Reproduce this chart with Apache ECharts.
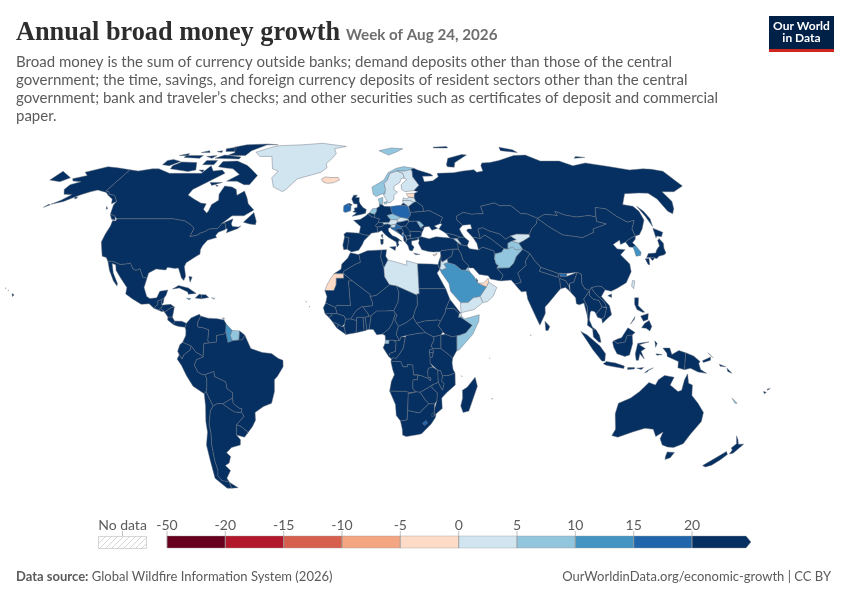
<!DOCTYPE html>
<html><head><meta charset="utf-8">
<script src="https://cdn.jsdelivr.net/npm/echarts@6/dist/echarts.min.js"></script>
<style>html,body{margin:0;padding:0;background:#fff}#c{width:850px;height:600px}</style>
</head><body><div id="c"></div>
<script>
// ---- Legend bins ----
const binEdges = ["-50","-20","-15","-10","-5","0","5","10","15","20"];
const binColors = ["#67001f","#b2182b","#d6604d","#f4a582","#fddbc7","#d1e5f0","#92c5de","#4393c3","#2166ac","#053061"];
const binLows = [-50,-20,-15,-10,-5,0,5,10,15,20];

// ---- Estimated growth per country (read from the map colours) ----
const minus5to0 = ["Iceland","Western Sahara","Estonia","Cyprus","United Arab Emirates"];
const zeroTo5 = ["Greenland","Sweden","Finland","Latvia","Lithuania","Slovakia","Austria","Libya","Jordan","Armenia","Oman","Yemen","Djibouti","Kyrgyzstan","Taiwan","Puerto Rico","Slovenia","Cape Verde","Mauritius","Comoros","Seychelles","Maldives"];
const fiveTo10 = ["Norway","Denmark","Netherlands","Czechia","Moldova","Somalia","Afghanistan","Tajikistan","Suriname","Equatorial Guinea","New Caledonia","Kuwait","Trinidad and Tobago"];
const tenTo15 = ["Saudi Arabia","South Korea","Guyana","Jamaica","East Timor"];
const fifteenTo20 = ["Poland","Ireland","Croatia","Montenegro","Bhutan","Lesotho"];
const over20 = ["Canada","United States","Mexico","Guatemala","Belize","Honduras","El Salvador","Nicaragua","Costa Rica","Panama","Cuba","Haiti","Dominican Republic","Bahamas","Colombia","Venezuela","French Guiana","Brazil","Ecuador","Peru","Bolivia","Chile","Argentina","Paraguay","Uruguay","Morocco","Algeria","Tunisia","Egypt","Sudan","Mauritania","Mali","Senegal","Guinea-Bissau","Guinea","Sierra Leone","Liberia","Ivory Coast","Burkina Faso","Ghana","Togo","Benin","Niger","Nigeria","Chad","Cameroon","Central African Republic","South Sudan","Ethiopia","Eritrea","Kenya","Uganda","Rwanda","Burundi","Tanzania","DR Congo","Congo","Gabon","Angola","Zambia","Malawi","Mozambique","Zimbabwe","Botswana","Namibia","South Africa","Eswatini","Madagascar","United Kingdom","France","Spain","Portugal","Belgium","Germany","Switzerland","Italy","Hungary","Bosnia","Serbia","Albania","North Macedonia","Greece","Bulgaria","Romania","Ukraine","Belarus","Russia","Georgia","Azerbaijan","Turkey","Syria","Lebanon","Israel","Iraq","Iran","Qatar","Kazakhstan","Turkmenistan","Uzbekistan","Pakistan","India","Nepal","Bangladesh","Sri Lanka","China","Mongolia","North Korea","Japan","Myanmar","Thailand","Laos","Cambodia","Vietnam","Malaysia","Indonesia","Papua New Guinea","Solomon Islands","Philippines","Australia","New Zealand","Fiji"];
const minus5to0Value = -2.5, zeroTo5Value = 2.5, fiveTo10Value = 7.5, tenTo15Value = 12.5, fifteenTo20Value = 17.5, over20Value = 25;

// ---- Country outlines, lon lat pairs; rings separated by ";" ----
const outlines = {
"Canada":"-141 69.6,-135 69,-128 70,-124 70,-115 68,-108 68,-102 68,-96 68,-94 71.5,-90 69,-85 69.5,-82 68,-87 65,-94 61,-94.5 58.7,-90 57,-85 55.3,-82 55,-82 52.8,-79.5 51.3,-79 52,-79 54.7,-76.5 56.5,-78 59,-77.5 62.5,-73 62,-70 61,-68 58.5,-65 60.3,-62 57.5,-60 55,-56 52.5,-60 50.2,-66 50.2,-70 47,-65 49,-65 47,-64 46,-61 45.8,-60 46.2,-61 45.2,-66 43.5,-66 45,-67 45.2,-67.8 47,-69.5 47.3,-71 45.2,-75 45,-76.5 44,-79 43.3,-79 42.8,-83 42,-82.5 45.3,-84.5 46.5,-88.5 48.2,-95 49,-123 49,-125 50,-128 51,-130 54.5,-130 56,-134 58.5,-137.5 59,-139 60,-141 60.3;-80 73.7,-72 71.7,-68 70,-62 67,-64 63,-67 63,-72 64.5,-78 64.5,-73 67.5,-79 70,-85 70.5,-89 71,-89 73.5;-117 70,-105 68.8,-101 69.5,-105 73,-115 73.3,-118 71.5;-125 72,-120 71.5,-116 73.5,-122 74.5,-125 74;-90 76.5,-78 76.5,-77 79,-70 82.5,-62 82.5,-70 83.1,-85 82.5,-92 81,-87 78;-96 75,-80 74.7,-80 75.7,-92 76.7;-87 64,-80 64,-85 62.7;-59.3 47.7,-55.5 51.5,-53 48,-53 46.7,-56 47;-117 75.5,-106 75,-106 76.5,-117 76.5;-94 78.5,-88 78.5,-90 81,-96 80;-100 72,-93 72,-93 74,-100 74;-128 50.8,-125 50.3,-123.5 48.5,-125.5 48.8;-133 54,-131.5 53,-132 52.8;-122 76.5,-116 76.4,-117 77.5;-103 76,-98 75,-97 76.5;-99 69.5,-96 68.5,-96 69.5;-83 63,-81 62.5,-82 62.3;-100 78.5,-96 78,-97 79;-110 78,-104 78,-106 79",
"United States":"-123 49,-95 49,-88.5 48.2,-84.5 46.5,-82.5 45.3,-83 42,-79 42.8,-79 43.3,-76.5 44,-75 45,-71 45.2,-69.5 47.3,-67.8 47,-67 45.2,-67 44.8,-70 43.7,-70.8 42.5,-70 41.7,-74 40.6,-75.5 38.5,-76 37,-75.6 35.3,-78 33.9,-81 32,-81.4 30.5,-80 26.8,-80.5 25.2,-81.8 26.2,-82.8 28,-84 30,-85.5 29.8,-89 30.2,-89.5 29.2,-91 29.3,-94 29.6,-97 28,-97.2 26,-99.2 26.4,-101.4 29.7,-103 29,-104.5 29.6,-106.5 31.8,-108.2 31.5,-111 31.3,-114.8 32.5,-117.1 32.5,-118.5 34,-120.6 34.5,-122 36.8,-124 40,-124.2 43,-124 46.2,-124.6 48.3,-123 48.2;-141 69.6,-141 60.3,-139 60,-137.5 59,-134 58.5,-130 56,-131.5 55,-133.5 57,-137 58.3,-140 59.7,-146 60.7,-149 60,-152 59,-153 58.5,-158 56,-163 54.8,-160 56.5,-157.5 58.8,-162 59,-165 61,-165 63,-161 64.3,-166 64.6,-168 65.6,-162 67,-166 68.5,-157 71,-150 70.5;-163 54.6,-165.3 53.6,-165.8 53.8,-164 54.8;-156 20.2,-155 19.6,-155.7 19;-158.2 21.6,-157.7 21.4,-158 21.2;-159.8 22.2,-159.3 22.2,-159.5 21.9;-154.5 58,-152.5 57.5,-153.5 57",
"Mexico":"-117.1 32.5,-114.8 32.5,-111 31.3,-108.2 31.5,-106.5 31.8,-104.5 29.6,-103 29,-101.4 29.7,-99.2 26.4,-97.2 26,-97.8 22.5,-96 19,-94.5 18.2,-91.5 18.5,-90.5 21,-87 21.5,-87.5 19.5,-88.2 18.5,-89.1 17.9,-91 17.2,-90.5 16,-92.2 14.5,-94.5 16.2,-98 16,-102 18,-105.5 20,-105.5 22.5,-109 26,-112 29,-113 31.2,-114.8 31.7,-113 28,-110 24,-110 23,-112 25,-115 29",
"Guatemala":"-92.2 14.5,-90.5 16,-91 17.2,-89.1 17.9,-89 15.9,-88.2 15.7,-89.3 14.4,-90.1 13.8",
"Belize":"-89.1 17.9,-88.2 18.5,-88.3 16.5,-89 15.9",
"Honduras":"-89.3 14.4,-88.2 15.7,-85 16,-83.2 15,-84.7 14.7,-87.3 13,-87.8 13.4",
"El Salvador":"-90.1 13.8,-89.3 14.4,-87.8 13.4,-88.5 13.2",
"Nicaragua":"-87.3 13,-84.7 14.7,-83.2 15,-83.7 11,-85.7 11.1",
"Costa Rica":"-85.7 11.1,-83.7 11,-82.6 9.6,-83 8.2,-85.7 10",
"Panama":"-83 8.2,-82.6 9.6,-79.5 9.5,-77.4 8.7,-77.9 7.2,-80 7.4,-81.5 7.7",
"Cuba":"-85 21.9,-82.5 23.2,-78 22.3,-74.2 20.2,-77.7 19.9,-78 20.7,-82 22.3",
"Haiti":"-74.4 18.4,-72.8 19.9,-71.7 19.7,-71.7 18.1",
"Dominican Republic":"-71.7 19.7,-69.9 19.7,-68.4 18.6,-71.7 18.1",
"Bahamas":"-78.5 26.7,-77 26.5,-77.5 24.5",
"Jamaica":"-78.3 18.4,-76.3 18.2,-77 17.7",
"Puerto Rico":"-67.2 18.5,-65.7 18.4,-66 17.9",
"Trinidad and Tobago":"-61.8 10.8,-60.9 10.8,-61 10.1",
"Greenland":"-73 78.2,-68 76,-60 76,-55 70,-51 69,-53 66,-50 62,-44 60,-42.5 61,-38 65.5,-25 68.5,-22 70.5,-23 72.5,-20 75,-18 77.5,-20 80,-12 81.5,-30 83.5,-45 82.5,-60 82,-65 81",
"Iceland":"-24 65.5,-22 66.4,-18 66.1,-14.5 66.2,-13.5 65,-17 63.8,-20 63.6,-22.5 64",
"Colombia":"-77.9 7.2,-77.4 8.7,-75.5 10.8,-72 12.2,-71.3 11.5,-72.5 9,-72.3 7.3,-70 7,-67.5 6.2,-67.8 2,-67 1.2,-69.5 1,-69.9 -4.2,-70.4 -3.7,-73 -2.4,-75 0,-78.8 1.4,-77.5 4,-77.5 6",
"Venezuela":"-71.3 11.5,-68 10.7,-64 10.5,-61 10,-60 8.5,-60 5.2,-61 4.5,-64 4,-64 1.5,-67 1.2,-67.8 2,-67.5 6.2,-70 7,-72.3 7.3,-72.5 9",
"Guyana":"-60 8.5,-57.2 6,-58 4,-57 2,-59 1.3,-60 5.2",
"Suriname":"-57.2 6,-54 5.8,-54.2 2.3,-57 2,-58 4",
"French Guiana":"-54 5.8,-51.7 4.2,-52.7 2.3,-54.2 2.3",
"Brazil":"-60 5.2,-59 1.3,-57 2,-54.2 2.3,-52.7 2.3,-51.7 4.2,-50 1,-49 -1,-44 -2.5,-40 -2.9,-37 -4.8,-35 -5.5,-35 -8,-37.5 -11.5,-39 -13,-39.2 -17.5,-40.8 -22,-44.5 -23.2,-48.5 -25.5,-48.7 -28.5,-50.5 -31,-53.4 -33.7,-53.2 -32.8,-55.7 -30.9,-57.6 -30.2,-53.7 -27,-54.6 -25.5,-54.3 -24,-55.5 -23.9,-58 -22,-58 -20,-57.8 -18,-60.2 -16.3,-60.5 -13.8,-65.3 -11.7,-65.4 -9.8,-69.5 -11,-70.6 -11,-72.5 -10,-73.9 -7.3,-72.8 -5.2,-69.9 -4.2,-69.5 1,-67 1.2,-64 1.5,-64 4,-61 4.5",
"Ecuador":"-78.8 1.4,-75 0,-75.5 -1.5,-78.3 -3.4,-79.1 -5,-80.3 -3.4,-81 -2,-80 0.5",
"Peru":"-80.3 -3.4,-79.1 -5,-78.3 -3.4,-75.5 -1.5,-75 0,-73 -2.4,-70.4 -3.7,-69.9 -4.2,-72.8 -5.2,-73.9 -7.3,-72.5 -10,-70.6 -11,-69.5 -11,-68.7 -12.5,-69 -16.2,-69.5 -17.5,-70.4 -18.3,-75 -15.5,-77.5 -11.5,-79.5 -7.5,-81.3 -5",
"Bolivia":"-69.5 -11,-65.4 -9.8,-65.3 -11.7,-60.5 -13.8,-60.2 -16.3,-57.8 -18,-58 -20,-62.6 -22.2,-65 -22.1,-67 -23,-68.5 -20,-69.5 -17.5,-69 -16.2,-68.7 -12.5",
"Chile":"-69.5 -17.5,-68.5 -20,-67 -23,-68.5 -25,-70 -30,-70 -33.5,-71 -38,-71.8 -44,-72 -48,-73 -50,-72 -52,-68.6 -52.3,-68.6 -55,-71 -55,-75 -51,-74 -44,-73.5 -38,-71.5 -33,-71.3 -29,-70.4 -23,-70.4 -18.3",
"Argentina":"-65 -22.1,-62.6 -22.2,-60 -24,-57.7 -25.3,-54.6 -25.5,-53.7 -27,-57.6 -30.2,-58.2 -33,-58.4 -34.2,-57 -36,-57.6 -38,-62 -39,-65 -41,-63.6 -42.5,-65.2 -45,-67.5 -46,-65.8 -48,-69 -51,-68.6 -52.3,-72 -52,-73 -50,-72 -48,-71.8 -44,-71 -38,-70 -33.5,-70 -30,-68.5 -25,-67 -23;-68.6 -52.6,-65.2 -54.8,-68.6 -55",
"Paraguay":"-58 -20,-58 -22,-55.5 -23.9,-54.3 -24,-54.6 -25.5,-57.7 -25.3,-60 -24,-62.6 -22.2",
"Uruguay":"-57.6 -30.2,-55.7 -30.9,-53.2 -32.8,-53.4 -33.7,-54.9 -35,-58.4 -34.2,-58.2 -33",
"Morocco":"-5.9 35.8,-2.2 35.1,-1.7 34.7,-1.2 32.2,-3.6 31.3,-8.7 28.7,-8.7 27.7,-13.2 27.7,-10 29.5,-9.7 31.5,-7 33.8",
"Western Sahara":"-13.2 27.7,-8.7 27.7,-8.7 26,-12 26,-12 23.5,-13 21.3,-17 21.3,-16 23.7,-14.5 26",
"Algeria":"-2.2 35.1,2 36.6,8.6 36.9,8.2 34,9.5 30,9.8 26.5,11.9 23.5,5.8 19.4,3.2 19,3.2 19.8,-4.8 25,-8.7 27.7,-8.7 28.7,-3.6 31.3,-1.2 32.2,-1.7 34.7",
"Tunisia":"8.6 36.9,11 37,10.5 34.5,11.5 33,9.5 30,8.2 34",
"Libya":"11.5 33,15 32.3,20 31,20 32.8,25 31.6,25 20,24 20,24 19.5,15 23,11.9 23.5,9.8 26.5,9.5 30",
"Egypt":"25 31.6,31 31.5,34.2 31.3,34.9 29.5,33.5 28,35.8 23.9,36.9 22,25 22",
"Sudan":"36.9 22,25 22,25 20,24 20,24 15.7,22.9 13.7,22 11,23.5 8.7,27 9.6,33 10,34 9.5,35 11,36.1 12.7,36.5 14.3,38.5 18,37.3 21",
"Mauritania":"-13 21.3,-12 23.5,-12 26,-8.7 26,-8.7 27.7,-4.8 25,-6.5 25,-5.5 15.5,-11.5 15.6,-12.2 14.8,-16.5 16.5,-16 19,-17 21.3",
"Mali":"-4.8 25,3.2 19.8,3.2 19,4.2 16.8,4.2 15.5,0 15,-0.5 15.1,-3 13.6,-5.4 10.4,-7.7 10.3,-8.3 11.5,-11.4 12.4,-12.2 14.8,-11.5 15.6,-5.5 15.5,-6.5 25",
"Senegal":"-12.2 14.8,-11.4 12.4,-16.7 12.4,-17.5 14.7,-16.5 16.5",
"Guinea-Bissau":"-16.7 12.4,-13.7 12.4,-13.7 11.7,-15 11",
"Guinea":"-13.7 12.4,-11.4 12.4,-8.3 11.5,-7.7 10.3,-8 8.5,-9.3 7.4,-10.7 8.3,-13.3 9.2,-15 11,-13.7 11.7",
"Sierra Leone":"-13.3 9.2,-10.7 8.3,-11.5 6.9",
"Liberia":"-11.5 6.9,-10.7 8.3,-9.3 7.4,-8.3 7.5,-7.5 4.4",
"Ivory Coast":"-8 8.5,-8.3 7.5,-7.5 4.4,-3 5.1,-2.8 8,-2.8 9.8,-5.4 10.4,-7.7 10.3",
"Burkina Faso":"-5.4 10.4,-3 13.6,-0.5 15.1,0 15,2.4 12.2,2.4 11.3,1 11,0 11,-2.8 11,-2.8 9.8",
"Ghana":"-2.8 11,0 11,0.5 6,1.2 6,-3 5.1,-2.8 8,-2.8 9.8",
"Togo":"0 11,1 11,1.7 6.2,1.2 6,0.5 6",
"Benin":"1 11,2.4 11.3,3.6 11.7,2.7 6.4,1.7 6.2",
"Niger":"3.2 19,5.8 19.4,11.9 23.5,15 23,16 20.7,15.5 16.8,13.6 13.6,10 13.4,6 13.4,3.6 11.7,2.4 11.3,2.4 12.2,0 15,4.2 15.5,4.2 16.8",
"Nigeria":"2.7 6.4,3.6 11.7,6 13.4,10 13.4,13.6 13.6,14.2 12.5,13 9,11.5 6.7,8.5 4.6,6 4.3,4.5 6.3",
"Chad":"15 23,24 19.5,24 15.7,22.9 13.7,22 11,19 9,15.5 7.5,14 10,15 12,14.2 12.5,13.6 13.6,15.5 16.8,16 20.7",
"Cameroon":"8.5 4.6,11.5 6.7,13 9,14.2 12.5,15 12,14 10,15.5 7.5,14.5 4.5,16 2,13 2.2,9.8 2.2,9.7 4",
"Central African Republic":"15.5 7.5,19 9,22 11,23.5 8.7,27.4 5.1,24 4.8,19 4,16.6 3.5,16 2,14.5 4.5",
"South Sudan":"23.5 8.7,27 9.6,33 10,34 9.5,33 7.8,35 5.4,34 4.2,30.8 3.5,27.4 5.1",
"Ethiopia":"35 11,36.1 12.7,36.5 14.3,40 14.5,42.4 12.5,42 11,43 11,47.9 8,45 5,42 4,39 3.5,35.9 4.5,35 5.4,33 7.8,34 9.5",
"Eritrea":"36.5 14.3,38.5 18,43 12.6,42.4 12.5,40 14.5",
"Djibouti":"42.4 12.5,43.2 12.6,43.3 11.5,42 11",
"Somalia":"43 11,43.3 11.5,44.5 10.4,51.1 12,50.8 9.5,48 4.5,42 -1.5,41 -1.7,41 3.9,42 4,45 5,47.9 8",
"Kenya":"41 3.9,39 3.5,35.9 4.5,34 4.2,34 -1,37.7 -3.5,39.2 -4.7,41 -1.7",
"Uganda":"30.8 3.5,34 4.2,34 -1,30.5 -1,29.7 0,31 2.3",
"Rwanda":"29 -1.5,30.5 -1,30.8 -2.4,29 -2.7",
"Burundi":"29 -2.7,30.8 -2.4,30.2 -4.4,29.3 -4.4",
"Tanzania":"30.5 -1,34 -1,37.7 -3.5,39.2 -4.7,39 -6.5,39.5 -9,40.4 -10.4,38 -11.2,34.9 -11.5,34 -9.5,32.8 -9.3,29.3 -6.5,29.3 -4.4,30.2 -4.4,30.8 -2.4",
"DR Congo":"12.2 -6,12.5 -5,13 -4.5,14.5 -4.7,16 -3,17.5 -1,18.5 3.5,19 4,24 4.8,27.4 5.1,30.8 3.5,31 2.3,29.7 0,30.5 -1,29 -1.5,29 -2.7,29.3 -4.4,29.3 -6.5,30.7 -8.2,28.7 -8.5,28.4 -9.5,28.6 -12,29.8 -12.2,29.8 -13.4,28.4 -12.4,26.9 -11.9,25.3 -11.3,22.2 -11.1,22 -9.7,21.8 -7.3,19.5 -7.1,19.4 -8,17.5 -8,16.5 -6,13 -5.9",
"Congo":"11.2 -4,12.5 -5,13 -4.5,14.5 -4.7,16 -3,17.5 -1,18.5 3.5,16.6 3.5,16 2,13 2.2,14.4 1.5,14.2 -2,11.8 -2.8",
"Gabon":"9.6 1,11.3 1,11.3 2.2,13 2.2,14.4 1.5,14.2 -2,11.8 -2.8,11.2 -4,8.8 -0.7",
"Equatorial Guinea":"9.8 2.2,11.3 2.2,11.3 1,9.6 1",
"Angola":"12.2 -6,13 -5.9,16.5 -6,17.5 -8,19.4 -8,19.5 -7.1,21.8 -7.3,22 -9.7,22.2 -11.1,24 -11,24 -13,22 -13,22 -16.2,23.4 -17.6,21 -18,18.5 -17.4,14.5 -17.4,11.8 -17.3,12.5 -13.5,13.8 -11,13 -9",
"Zambia":"22.2 -11.1,25.3 -11.3,26.9 -11.9,28.4 -12.4,29.8 -13.4,29.8 -12.2,28.6 -12,28.4 -9.5,28.7 -8.5,30.7 -8.2,32.8 -9.3,33 -12,33.2 -14,30.4 -15,28.9 -16,25.3 -17.8,23.4 -17.6,22 -16.2,22 -13,24 -13,24 -11",
"Malawi":"32.8 -9.3,34 -9.5,34.9 -11.5,34.7 -13.5,35.8 -14.5,35.2 -17,34.3 -15.8,33.2 -14,33 -12",
"Mozambique":"34.9 -11.5,38 -11.2,40.4 -10.4,40.7 -15,37 -18,35 -20,35.5 -24,32.9 -26,32 -26.8,32 -24.5,32.9 -21,32.9 -18,30.4 -16,30.4 -15,33.2 -14,34.3 -15.8,35.2 -17,35.8 -14.5,34.7 -13.5",
"Zimbabwe":"25.3 -17.8,28.9 -16,30.4 -15,30.4 -16,32.9 -18,32.9 -21,32 -22.3,29.4 -22.2,27.5 -20.5",
"Botswana":"20 -18.3,23.4 -17.6,25.3 -17.8,27.5 -20.5,29.4 -22.2,26.5 -24.7,25.5 -25.7,23 -25.3,20 -24.8,20 -22",
"Namibia":"11.8 -17.3,14.5 -17.4,18.5 -17.4,21 -18,23.4 -17.6,20 -18.3,20 -22,20 -28.4,17 -28.8,15 -26.7,14.5 -22.5",
"South Africa":"17 -28.8,20 -28.4,20 -24.8,23 -25.3,25.5 -25.7,26.5 -24.7,29.4 -22.2,32 -22.3,32 -24.5,32 -26.8,32.9 -26,32.7 -27.5,31 -30,27 -33.7,25.6 -34,20 -34.8,18.3 -34.2,18 -32",
"Eswatini":"31 -25.8,32 -25.8,32 -27,31 -27.2",
"Lesotho":"27 -29.6,28.6 -28.6,29.4 -29.6,28 -30.6",
"Madagascar":"49.3 -12,50.5 -15.5,47.5 -25,45 -25.5,43.7 -23,44.3 -20,44 -17,46 -15.8,48 -13.5",
"Cape Verde":"-25.3 17.2,-24.9 17,-25.1 16.8;-23.7 15.3,-23.4 15.1,-23.6 14.9",
"Mauritius":"57.4 -20,57.8 -20.2,57.5 -20.5",
"Comoros":"43.2 -11.4,43.5 -11.8,43.2 -11.9",
"Seychelles":"55.4 -4.5,55.6 -4.7,55.4 -4.8",
"Maldives":"73.3 4.3,73.6 4.2,73.4 3.9",
"United Kingdom":"-5.5 50,-1 50.7,1.3 51.2,1.7 52.7,0 53.5,-1.5 55,-2 56,-2 57.6,-4 57.6,-3 58.6,-5 58.6,-6 57,-4.8 55,-3 54.9,-3 53.5,-4.5 53.3,-4.2 52.3,-5.2 51.8,-3.2 51.4;-7.3 55.2,-5.6 54.6,-6.3 54.1,-7.5 54.4",
"Ireland":"-6.2 53.5,-6.3 54.1,-7.5 54.4,-7.3 55.2,-8.5 54.9,-10 54.2,-10 52,-9 51.5,-6.3 52.2",
"France":"-1.8 43.4,-1.2 46,-4.7 48.4,-1.5 48.7,1.5 50.2,2.5 51,4.1 50,5.8 49.5,8.2 49,7.6 47.6,6 46.3,7 45.8,7 44,7.5 43.8,4 43.4,3 42.5,0.7 42.7;8.7 42.6,9.5 43,9.3 41.4",
"Spain":"-9.2 43,-8 43.7,-1.8 43.4,0.7 42.7,3 42.5,0.5 40.5,-0.3 39,0 38.7,-2 36.8,-5.3 36.1,-7.4 37.2,-7 39.6,-6.8 41.7,-8.8 41.9",
"Portugal":"-8.8 41.9,-6.8 41.7,-7 39.6,-7.4 37.2,-9 37,-9.5 38.8",
"Belgium":"2.5 51,3.4 51.4,6 50.8,5.8 49.5,4.1 50",
"Netherlands":"3.4 51.4,4.8 53,7.2 53.3,7 52,6 50.8",
"Germany":"6 50.8,7 52,7.2 53.3,8.6 54,8.6 54.9,10 54.7,11 54,14.2 53.9,14.6 52,15 51,12.2 50.3,13.8 48.7,13 47.6,9.7 47.5,7.6 47.6,8.2 49,5.8 49.5",
"Denmark":"8.6 54.9,8.2 57,10.6 57.7,10.5 56,10 54.8;11 55.7,12.6 56,12.3 55,11 55",
"Switzerland":"6 46.3,7.6 47.6,9.7 47.5,10.4 46.8,9 45.9,7 45.8",
"Austria":"9.7 47.5,13 47.6,13.8 48.7,17 48.7,17.1 47.7,16.2 46.9,13.8 46.5,12.2 47,10.4 46.8",
"Italy":"7 45.8,9 45.9,10.4 46.8,12.2 47,13.8 46.5,13.6 45.7,12.3 45.2,12.5 44,14 42.5,16 41.8,18.5 40.2,17 40.5,16.6 39.5,17 39,16 38,15.7 40,12.3 41.7,10.5 43,9 44.4,7.5 43.8,7 44;12.5 38,15.5 38.2,15 36.7;8.3 41,9.7 41,9.5 39.2,8.5 39",
"Czechia":"12.2 50.3,15 51,18.8 49.6,17 48.7,13.8 48.7",
"Slovakia":"17 48.7,18.8 49.6,22.5 49.1,22 48.4,18.8 47.8,17.1 47.7",
"Poland":"14.2 53.9,19 54.4,23 54.4,24 52,24 50.5,22.5 49.1,18.8 49.6,15 51,14.6 52",
"Hungary":"17.1 47.7,18.8 47.8,22 48.4,22.9 48,21 46.2,18.8 45.9,16.2 46.9",
"Slovenia":"13.6 45.7,13.8 46.5,16.2 46.9,15.5 45.5",
"Croatia":"13.6 45.2,13.6 45.7,15.5 45.5,16.2 46.9,18.8 45.9,19 45,16 45,16 44.5,18.5 42.6,15 44.5",
"Bosnia":"16 45,19 45,19.5 44,18.5 42.6,16 44.5",
"Serbia":"19 45,18.8 45.9,21 46.2,22.7 44.5,22.8 42.9,22 42.3,20.5 42.3,19.5 43.2,19.5 44",
"Montenegro":"18.5 42.6,19.5 43.2,20.2 42.7,19.3 41.9",
"Albania":"19.3 41.9,20.2 42.7,20.6 41,20.2 39.7,19.4 40.4",
"North Macedonia":"20.5 42.3,22.8 42.3,23 41.3,20.9 40.9",
"Greece":"20.2 39.7,20.9 40.9,23 41.3,26.3 41.7,26 40.8,23 40.3,23 39,24 38,23 36.5,21.7 36.8,21.2 38.5;23.5 35.6,26.3 35.2,24.5 35",
"Bulgaria":"22.7 44.1,27 44.1,28.6 43.7,27.7 42,26.3 41.7,23 41.3,22.8 42.3,22.8 42.9",
"Romania":"21 46.2,22.9 48,26.6 48.2,28.2 45.5,29.7 45.2,28.6 43.7,27 44.1,22.7 44.1",
"Moldova":"26.6 48.2,28.2 48,30 46.4,28.2 45.5",
"Ukraine":"22.5 49.1,24 50.5,24 51.6,31 52,34 52.3,40 49.6,38 47.1,35 46.2,36.5 45.3,33.5 44.5,32.5 46,30 45.8,29.7 45.2,28.2 45.5,30 46.4,28.2 48,26.6 48.2,22.9 48",
"Belarus":"24 52,23.5 53.9,26.6 55.7,28 56,31 54,31 52,24 51.6",
"Lithuania":"21 55.3,21 56.4,25 56.4,26.6 55.7,23.5 53.9,23 54.4,22.8 54.4",
"Latvia":"21 56.4,21.6 57.5,23.5 57,24.4 57.8,27.4 57.5,28 56,26.6 55.7,25 56.4",
"Estonia":"23.5 59.2,28 59.4,27.4 57.5,24.4 57.8,24 58.3",
"Norway":"5 62,5.5 59,7 58,10.5 59.2,11.8 59,12.5 61,12 63.5,14 65,16 68,20 69,25 69,29 69.7,31 70.3,25 71.1,20 70.2,15 68.3,12 65,8 63.3;11 79,17 76.7,22 78,28 80,20 80.5",
"Sweden":"10.9 59,12.7 56.2,13 55.4,14.4 55.5,16.5 57,16.7 58.6,18.8 59.8,17 61,17.5 62.5,21 64,22 65.7,24 65.8,23.7 68,20.5 69,20 69,16 68,14 65,12 63.5,12.5 61,11.8 59",
"Finland":"20.6 69.1,23.7 68,24 65.8,25.3 65.3,21.5 63,21.3 61,23 60,28 60.5,31.5 62.8,29 66.5,29.5 69,29 69.7,25 69",
"Russia":"31 70.3,29 69.7,29.5 69,29 66.5,31.5 62.8,28 60.5,30 60,28 59.4,27.4 57.5,28 56,31 54,31 52,34 52.3,40 49.6,38 47.1,39 47,37 45,40 43.4,43.5 42.8,46.5 41.8,48.5 41.8,47.5 43.5,47 45,49 46.5,47.5 48,46.8 48.4,47 50,51 51.6,55 50.8,58 51,61 51,61 54,69 55.4,71 54.2,76.8 54.3,80 51,83 51,87.3 49.2,92 50.8,98 50.3,98 52,102 50.5,107 49.7,107 50,114 50.3,117 49.7,120 53.5,125 53,127.5 50,131 47.7,135 48.4,131 45,130.7 42.3,133 42.8,136 45,140 48.5,141 52,140 54,135.5 54.7,142 59.2,150 59.5,155 59.4,156.5 57,155.7 52,157 51,160 53,163 56,163.5 60,170 60,179 62.5,179 64.7,180 65,180 68.9,175 69.8,170 70,161 69.5,152 71,140 72.8,130 71.5,125 73.7,113 73.7,108 76.7,100 76.5,87 74,80 73,74.8 72.8,73 71.5,72 69,68 68.5,67 69.6,60 69,54 68.3,44 68,44 66.5,40 64.7,35 64.3,34.8 66.7,41 66.8,40 67.7,33 69.5;-180 68.9,-175 67.5,-170 66,-173 64.3,-180 65;52 71,56 70.8,58 73,69 76.8,66 77,55 75,52 72;142 54,143.3 52,143.5 49,142 46,142 50;95 79,105 78,104 79.5,97 81;137 75,145 75.5,140 76;50 80.5,60 80.5,60 81.5,50 81;19.8 54.4,22.8 54.4,21 55.3",
"Georgia":"40 43.4,43.5 42.8,46.5 41.8,45 41.2,43 41.2,41.5 41.5",
"Armenia":"43 41.2,45 41.2,46.5 39,46 38.9,44.8 39.7",
"Azerbaijan":"45 41.2,46.5 41.8,48.5 41.8,50.3 40.3,49 38.4,46 38.9,46.5 39",
"Turkey":"26.3 41.7,28 42,31.5 41.2,35 42,41.5 41.5,43 41.2,44.8 39.7,44.6 37.2,42.3 37.2,36.5 36.6,36 36.2,32.5 36.1,30.5 36.3,27.5 37,26.2 39.5,26.7 40.5",
"Cyprus":"32.3 35,34.5 35.6,33.8 34.9,33 34.6",
"Syria":"36 36.2,36.5 36.6,42.3 37.2,41 34.5,38.8 33.4,36.5 32.3,35.8 32.7,36 34.5",
"Lebanon":"35.1 33.1,35.8 32.7,36 34.5",
"Israel":"34.3 31.3,35.1 33.1,35.8 32.7,35.5 31,34.9 29.5",
"Jordan":"34.9 29.5,35.5 31,35.8 32.7,36.5 32.3,38.8 33.4,39 32,37 31.5,38 30,36 29.2",
"Iraq":"38.8 33.4,41 34.5,42.3 37.2,44.6 37.2,45.5 35.5,46 33,48 31,48.5 30,47.7 30.1,46.5 29.1,44.7 29.2,42 31.2,39 32",
"Iran":"44.8 39.7,46 38.9,49 38.4,50 37.4,54 36.9,56 38,61 36.6,61.2 35.3,60.6 33.5,60.9 31.5,61.8 31,60.9 29.9,63.3 27.2,61.7 25,57.3 25.7,56.5 27,52.5 27.5,50.2 30,48.5 30,48 31,46 33,45.5 35.5,44.6 37.2",
"Saudi Arabia":"34.9 29.5,36 29.2,38 30,37 31.5,39 32,42 31.2,44.7 29.2,46.5 29.1,48.4 28.5,50.2 26.5,51.3 24.5,51.6 24.1,55.2 22.7,52 19,49 18.5,46.5 16.7,43.2 16.6,42.8 16.4,39 21,38.5 24,35.5 28",
"Kuwait":"46.5 29.1,47.7 30.1,48.4 28.5",
"Qatar":"51 26,51.6 25,51 24.6",
"United Arab Emirates":"51.6 24.1,54 24.2,56.3 26,56.4 24.5,55.2 22.7",
"Oman":"56.4 24.5,59.8 22.5,57.7 19,55 17,53 16.7,52 19,55.2 22.7",
"Yemen":"43.2 12.8,43 16,43.2 16.6,46.5 16.7,49 18.5,52 19,53 16.7,49 14",
"Kazakhstan":"49 46.5,47.5 48,46.8 48.4,47 50,51 51.6,55 50.8,58 51,61 51,61 54,69 55.4,71 54.2,76.8 54.3,80 51,83 51,87.3 49.2,85.5 47,82.5 45.3,80 42.9,74 43,70.8 42.3,68 41,66 43,61 44.3,58.5 45.5,56 45,56 41.3,52.5 41.8,50.3 44.3,51 45,53 45,53 46.8",
"Turkmenistan":"52.5 41.8,56 41.3,58.5 42.7,61 41.2,66 37.4,64.5 36,61.2 35.3,61 36.6,56 38,54 36.9,53.8 39.5",
"Uzbekistan":"56 45,58.5 45.5,61 44.3,66 43,68 41,70.8 42.3,73 40.8,70.5 40.2,68.5 39.5,67.8 37.2,66 37.4,61 41.2,58.5 42.7,56 41.3",
"Kyrgyzstan":"70.8 42.3,74 43,80 42.9,80 42,76 40.3,73.7 39.5,70.5 40.2,73 40.8",
"Tajikistan":"68.5 39.5,70.5 40.2,73.7 39.5,75 37.4,74.8 37.2,71.5 36.9,70 38,67.8 37.2",
"Afghanistan":"61.2 35.3,64.5 36,66 37.4,67.8 37.2,70 38,71.5 36.9,74.8 37.2,71 34.5,69 31.8,66.5 30,60.9 29.9,61.8 31,60.9 31.5,60.6 33.5",
"Pakistan":"61.7 25,63.3 27.2,60.9 29.9,66.5 30,69 31.8,71 34.5,74.8 37.2,77.5 35.5,74.5 32.5,74.5 31,70 28,71 24.5,68 23.7,66.5 25.3",
"India":"77.5 35.5,79 32.5,81 30.2,80 28.7,88 26.4,88.2 27.9,89 28,89 26.8,92 26.8,97 28.3,94.5 24.5,92.5 24,92 23,91 25,88.5 26,88.2 22,87 21,82.3 16.7,80.3 15,80.2 12.5,77.5 8,76 11,73 18,72.7 21,70.5 20.8,69 22.5,68 23.7,71 24.5,70 28,74.5 31,74.5 32.5",
"Nepal":"80 28.7,81 30.2,88.2 27.9,88 26.4",
"Bhutan":"89 26.8,89 28,92 27.8,92 26.8",
"Bangladesh":"88.5 26,91 25,92 23,92.3 20.8,90.5 22.5,88.2 22",
"Sri Lanka":"79.8 9.5,81.8 7.5,81 6,80 6",
"China":"73.7 39.5,76 40.3,80 42,80 42.9,82.5 45.3,85.5 47,87.3 49.2,91 46,96 42.8,105 41.7,111.5 43.7,112 45,120 47,116 48,117 49.7,120 53.5,125 53,127.5 50,131 47.7,135 48.4,131 45,130.7 42.3,128 41.5,124.4 40,121.5 39,122 40.7,118 39,119 37.3,122.5 37,119.3 35,122 31.5,121.5 28.5,118 24.3,113.5 22.2,110.5 21,108 21.6,106.7 22.8,105 23,102 22.4,101 21.3,99 22,98 24,98.7 27.5,97 28.3,92 27.8,89 28,88.2 27.9,81 30.2,79 32.5,77.5 35.5,74.8 37.2,75 37.4;108.7 19.3,110.5 20,110.3 18.6",
"Mongolia":"87.3 49.2,92 50.8,98 50.3,98 52,102 50.5,107 49.7,107 50,114 50.3,117 49.7,116 48,120 47,112 45,111.5 43.7,105 41.7,96 42.8,91 46",
"North Korea":"124.4 40,128 41.5,130.7 42.3,129.7 41,127.5 39.7,128.3 38.6,126.7 37.9,125 38",
"South Korea":"126.7 37.9,128.3 38.6,129.4 36,128.5 34.8,126.3 34.5,126.7 37",
"Japan":"130.9 34,132.5 35.5,136 35.7,137.3 37,139.5 38.5,140 40.5,141.3 41.3,142 39.5,141 37.5,140.8 35.7,139.5 35,136.8 34.5,135.5 33.6,133 34;140 41.5,141.5 45.3,145 43.7,143 42,141 42.3;130 33.5,131.8 33.6,131 31.2,130.3 31.3;132.5 33.8,134.5 34.2,134 33.4,133 32.8",
"Taiwan":"121 25.2,122 25,120.8 22,120.1 23",
"Myanmar":"92.3 20.8,92.5 24,94.5 24.5,97 28.3,98.7 27.5,98 24,99 22,101 21.3,100 20.3,97.8 18,99 15,98.7 10.5,98.5 12,97.7 16.5,95.5 15.8,94.3 16.2,94.3 18.5",
"Thailand":"100 20.3,101 21.3,100.5 19.5,102 18,104.5 17.5,105.5 15,102.5 12.3,102 13.2,100.7 13.5,100 13,99.3 10,100.5 7.2,102 6.2,100.5 6.5,98.3 8,98.7 10.5,99 15,97.8 18",
"Laos":"101 21.3,102 22.4,103 20.5,106.7 17,107.5 15,107.5 14.7,105.5 15,104.5 17.5,102 18,100.5 19.5",
"Cambodia":"102.5 12.3,105.5 15,107.5 14.7,106 11,104.8 10.5,103 11",
"Vietnam":"102 22.4,105 23,106.7 22.8,108 21.6,105.8 19,108.8 15.5,109.3 12,107 10.4,105 8.7,104.8 10.5,106 11,107.5 14.7,107.5 15,106.7 17,103 20.5",
"Malaysia":"100.5 6.5,102 6.2,103.4 4,104 1.4,103 1.5,100.7 3.5;109.6 2,111.5 2.8,113 3.2,116 7,119 5.2,117.7 4.2,115.5 4,114.5 1.5,111 1",
"Indonesia":"109 1.5,109.6 2,111 1,114.5 1.5,115.5 4,117.7 4.2,117.8 1,116.5 -3.5,114.5 -4,111 -3,109.5 -0.5;95.3 5.6,98 4.2,103.5 0,106 -3,105.8 -5.8,104.5 -5.8,100.5 -1.5,97.5 2.5;105.2 -6.8,106.5 -6,110.5 -6.5,114.5 -7.7,114.3 -8.6,110 -8,106.5 -7.4;119.5 -5.5,119 -3,120 1,125 1.6,120.7 0.5,123.3 -1,121.5 -2,123 -5,121 -3,120.5 -5.5;116 -8.3,119 -8.3,119 -8.8,116 -9;120 -8.5,123 -8.3,122 -9;123.5 -10.3,125 -9.2,124.9 -9.9;127.5 2,128.5 1,127.8 -0.5;128 -3,130.8 -3.3,128.5 -3.6;131 -0.8,134 -0.8,135 -3.3,138 -1.7,141 -2.6,141 -9.1,138 -8.4,138 -6,133 -4,132.8 -2.8",
"East Timor":"125 -9.2,127.2 -8.4,125 -9.5",
"Papua New Guinea":"141 -2.6,144.5 -3.8,147.5 -6,147 -6.7,148 -9,150.8 -10.5,147 -10,143.5 -8.5,141 -9.1;148.5 -5.7,152 -4.2,152 -5.5,149 -6.3;150.8 -2.6,153 -4.5,152.7 -4.7",
"Solomon Islands":"156 -7,159 -8,156.5 -7.8;159.5 -8.5,162 -10.5,160 -9.8",
"Philippines":"120.5 18.5,122.2 18.5,121.5 15.5,124 13,123 13,120.7 14,120 16;122 7,123.5 8.7,125.5 9.8,126.5 7.5,125.5 5.8,124 6.8;122 11.5,125.5 12.5,125 10.2,123 9.5;117.2 8.4,119.5 11.3,119 10.2",
"Australia":"114 -22,113.5 -26,115.7 -32,115 -34.4,118 -35,124 -33,129 -31.6,133 -32,135.5 -34.8,138 -33,138 -35.6,140.5 -38,143.5 -38.8,146.5 -39,150 -37.5,151 -34,153.5 -29,153 -25.5,149.5 -22,146 -19,145.3 -15,143.5 -14.3,142.5 -10.7,141.5 -13,141 -17,139.5 -17.5,135.5 -15,136.8 -12,132.5 -11.3,130 -13,129 -15,126 -14,122.5 -17.5,119 -20;144.7 -40.7,148.3 -40.9,148 -43,146 -43.6,145.3 -42.5",
"New Zealand":"172.7 -34.5,174.5 -36,176 -37.7,178.5 -37.7,176.5 -41.2,175 -41.5,175 -40,173.8 -39.2,175 -37.5;172.7 -40.5,174.3 -41.7,172.8 -43.8,170.8 -45.9,168.5 -46.6,166.5 -46,170 -43",
"New Caledonia":"164 -20,167 -22,166 -22",
"Fiji":"177.3 -17.5,178.7 -17.8,178 -18.3;178.8 -16.5,180 -16.3,179 -17"
};

// ---- Robinson projection table ----
const robX = [1,.9986,.9954,.99,.9822,.973,.96,.9427,.9216,.8962,.8679,.835,.7986,.7597,.7186,.6732,.6213,.5722,.5322];
const robY = [0,.062,.124,.186,.248,.31,.372,.434,.4958,.5571,.6176,.6769,.7346,.7903,.8435,.8936,.9394,.9761,1];
const mapCentreX = 363, mapEquatorY = 346, mapPxPerDeg = 2.29, mapYScale = 210;
function rob(lat){
  const a = Math.min(Math.abs(lat),89.999)/5, i = Math.floor(a), t = a-i;
  return [robX[i]+(robX[i+1]-robX[i])*t, (robY[i]+(robY[i+1]-robY[i])*t)*(lat<0?-1:1)];
}
const robinson = {
  project(p){ const r = rob(p[1]); return [mapCentreX+p[0]*mapPxPerDeg*r[0], mapEquatorY-r[1]*mapYScale]; },
  unproject(p){
    const Y = (mapEquatorY-p[1])/mapYScale; let lat = 0, best = 9;
    for(let l=-90;l<=90;l+=.25){ const d = Math.abs(rob(l)[1]-Y); if(d<best){best=d;lat=l;} }
    return [(p[0]-mapCentreX)/mapPxPerDeg/rob(lat)[0], lat];
  }
};

// Build the GeoJSON and the fitted box so projected coordinates equal page pixels
const features = [];
let x0=1e9,x1=-1e9,y0=1e9,y1=-1e9;
Object.keys(outlines).forEach(function(name){
  const rings = outlines[name].split(";").map(function(r){
    const c = r.split(",").map(function(s){ return s.trim().split(/\s+/).map(Number); });
    c.forEach(function(q){ const u = robinson.project(q); x0=Math.min(x0,u[0]);x1=Math.max(x1,u[0]);y0=Math.min(y0,u[1]);y1=Math.max(y1,u[1]); });
    c.push(c[0]);
    return [c];
  });
  features.push({type:"Feature",properties:{name:name},geometry:{type:"MultiPolygon",coordinates:rings}});
});
echarts.registerMap("world",{type:"FeatureCollection",features:features});

const data = [];
function addGroup(list,v){ list.forEach(function(n){ data.push({name:n,value:v}); }); }
addGroup(minus5to0,minus5to0Value); addGroup(zeroTo5,zeroTo5Value); addGroup(fiveTo10,fiveTo10Value);
addGroup(tenTo15,tenTo15Value); addGroup(fifteenTo20,fifteenTo20Value); addGroup(over20,over20Value);

const pieces = binColors.map(function(c,i){
  const p = {min:binLows[i],color:c};
  if(i<binLows.length-1) p.max = binLows[i+1];
  return p;
});

// ---- Legend ----
const legendX = [167,225.3,283.7,342,400.3,458.7,517,575.3,633.7,692], legendEnd = 751, barTop = 536, barH = 12;
const grey = "#5b5b5b";
const gfx = [];
binColors.forEach(function(c,i){
  const a = legendX[i], b = i<9?legendX[i+1]:legendEnd;
  const pts = i<9 ? [[a,barTop],[b,barTop],[b,barTop+barH],[a,barTop+barH]] : [[a,barTop],[b-5,barTop],[b,barTop+barH/2],[b-5,barTop+barH],[a,barTop+barH]];
  gfx.push({type:"polygon",shape:{points:pts},style:{fill:c,stroke:"#999",lineWidth:.4},silent:true});
});
binEdges.forEach(function(t,i){
  gfx.push({type:"line",shape:{x1:legendX[i],y1:531,x2:legendX[i],y2:barTop+barH},style:{stroke:"#999",lineWidth:.6},silent:true});
  gfx.push({type:"text",style:{text:t,x:legendX[i],y:525,align:"center",verticalAlign:"middle",font:"14px Lato, sans-serif",fill:grey},silent:true});
});
// No data box
const hatch = document.createElement("canvas"); hatch.width = hatch.height = 6;
(function(){ const g = hatch.getContext("2d"); g.strokeStyle="#ccc"; g.lineWidth=.8; g.beginPath(); g.moveTo(0,6);g.lineTo(6,0);g.moveTo(-1,1);g.lineTo(1,-1);g.moveTo(5,7);g.lineTo(7,5);g.stroke(); })();
gfx.push({type:"rect",shape:{x:98.5,y:536.5,width:48,height:12},style:{fill:{image:hatch,repeat:"repeat"},stroke:"#bbb",lineWidth:.6},silent:true});
gfx.push({type:"line",shape:{x1:122.5,y1:531,x2:122.5,y2:536},style:{stroke:"#999",lineWidth:.6},silent:true});
gfx.push({type:"text",style:{text:"No data",x:122.5,y:525,align:"center",verticalAlign:"middle",font:"14px Lato, sans-serif",fill:grey},silent:true});
// Logo
gfx.push({type:"rect",shape:{x:769,y:16,width:65,height:33},style:{fill:"#002147"},silent:true});
gfx.push({type:"rect",shape:{x:769,y:49,width:65,height:3},style:{fill:"#ce261e"},silent:true});
gfx.push({type:"text",style:{text:"Our World",x:801.5,y:26.5,align:"center",verticalAlign:"middle",font:"bold 12px Lato, sans-serif",fill:"#fff"},silent:true});
gfx.push({type:"text",style:{text:"in Data",x:801.5,y:38.5,align:"center",verticalAlign:"middle",font:"bold 12px Lato, sans-serif",fill:"#fff"},silent:true});

const subtitleLines = [
 "Broad money is the sum of currency outside banks; demand deposits other than those of the central",
 "government; the time, savings, and foreign currency deposits of resident sectors other than the central",
 "government; bank and traveler\u2019s checks; and other securities such as certificates of deposit and commercial",
 "paper."];

const chart = echarts.init(document.getElementById("c"),null,{renderer:"canvas",width:850,height:600});
chart.setOption({
  animation:false,
  backgroundColor:"#fff",
  title:[
    {text:"Annual broad money growth",left:16,top:20,padding:0,textStyle:{fontFamily:"Liberation Serif",fontWeight:"bold",fontSize:26.3,color:"#2d2d2d"}},
    {text:"Week of Aug 24, 2026",left:346,top:28,padding:0,textStyle:{fontFamily:"Lato",fontWeight:"bold",fontSize:15.2,color:"#6e6e6e"}},
    {text:subtitleLines.join("\n"),left:16,top:53,padding:0,textStyle:{fontFamily:"Lato",fontWeight:"normal",fontSize:15,lineHeight:18,color:grey}},
    {text:"{b|Data source:} Global Wildfire Information System (2026)",left:16,top:570.5,padding:0,textStyle:{fontFamily:"Lato",fontWeight:"normal",fontSize:13,color:grey,rich:{b:{fontFamily:"Lato",fontWeight:"bold",fontSize:13,color:grey}}}},
    {text:"OurWorldinData.org/economic-growth | CC BY",right:19,top:570.5,padding:0,textStyle:{fontFamily:"Lato",fontWeight:"normal",fontSize:13,color:grey}}
  ],
  visualMap:{type:"piecewise",show:false,pieces:pieces,seriesIndex:0},
  series:[{
    type:"map",map:"world",projection:robinson,roam:false,silent:true,
    left:x0,top:y0,width:x1-x0,height:y1-y0,
    label:{show:false},emphasis:{disabled:true},select:{disabled:true},
    itemStyle:{borderColor:"#6b7280",borderWidth:.45,areaColor:"#eee"},
    data:data
  }],
  graphic:{elements:gfx}
});
</script>
</body></html>
